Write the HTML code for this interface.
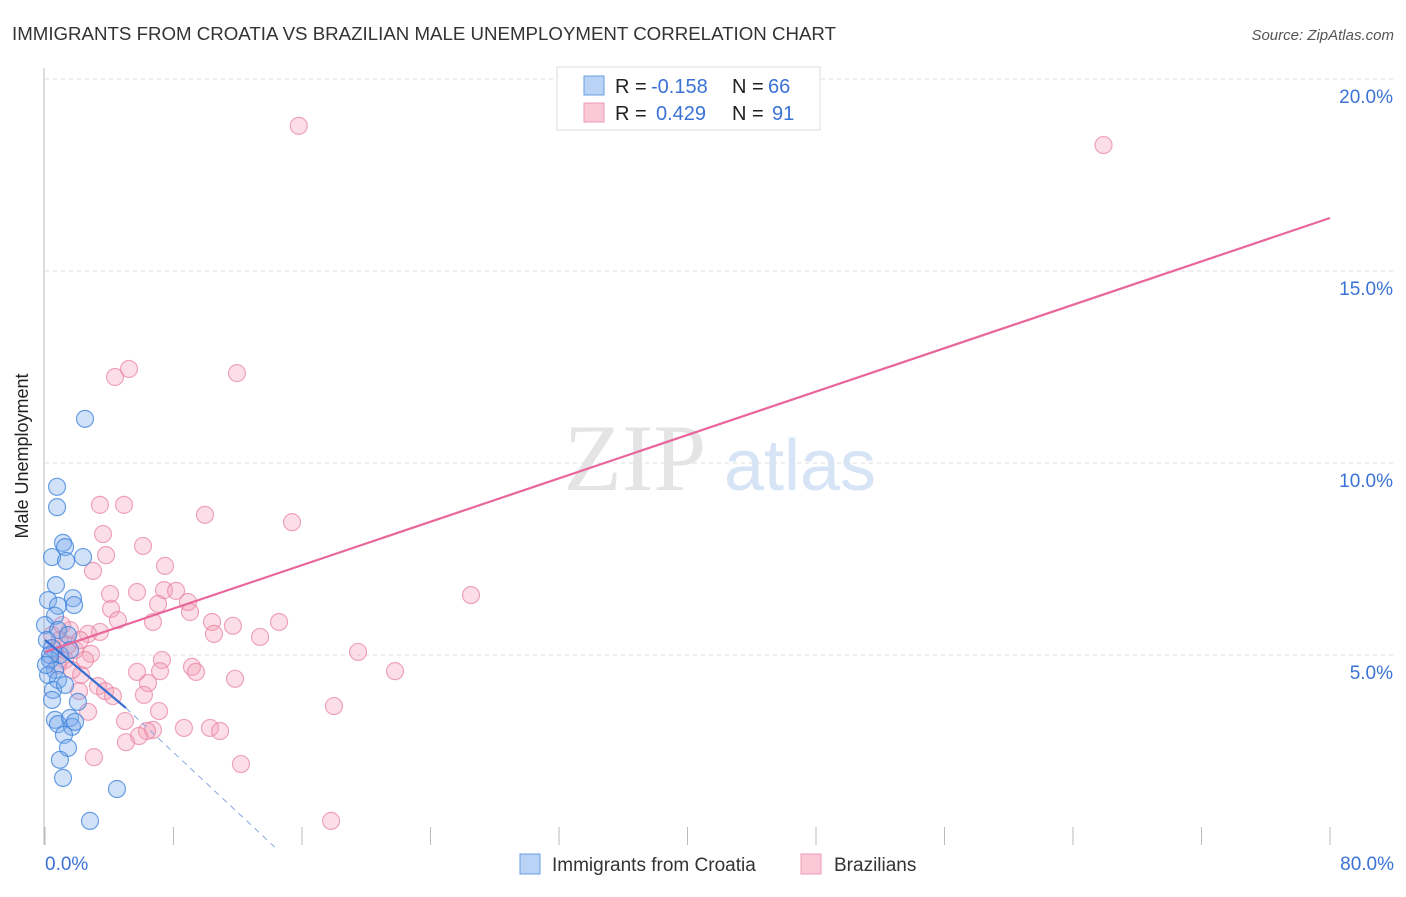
<!DOCTYPE html>
<html><head><meta charset="utf-8"><style>
body{margin:0;background:#fff;font-family:"Liberation Sans",sans-serif;}
</style></head><body>
<svg width="1406" height="892" xmlns="http://www.w3.org/2000/svg" style="font-family:'Liberation Sans',sans-serif">
<text x="12" y="40" font-size="18" fill="#333" textLength="824" lengthAdjust="spacingAndGlyphs">IMMIGRANTS FROM CROATIA VS BRAZILIAN MALE UNEMPLOYMENT CORRELATION CHART</text>
<text x="1394" y="40" font-size="15" fill="#555" font-style="italic" text-anchor="end">Source: ZipAtlas.com</text>
<g id="grid"></g>
<g>
<text x="635" y="490" font-size="95" fill="#e4e4e4" font-family="Liberation Serif" text-anchor="middle">ZIP</text>
<text x="800" y="490" font-size="72" fill="#d6e4f5" text-anchor="middle">atlas</text></g>
<line x1="44" y1="68" x2="44" y2="845" stroke="#bbb"/>
<g id="ticks"></g>
<text x="28" y="456" font-size="18" fill="#222" transform="rotate(-90 28 456)" text-anchor="middle">Male Unemployment</text>
<text x="45" y="870" font-size="19" fill="#3a72d6">0.0%</text>
<text x="1394" y="870" font-size="19" fill="#3a72d6" text-anchor="end">80.0%</text>
<g id="pts"></g>
<g id="trend"></g>
<g>
<rect x="557" y="67" width="263" height="63" fill="#fff" stroke="#ddd"/>
<rect x="584" y="76" width="20" height="19" fill="#b8d3f5" stroke="#6a9de0"/>
<rect x="584" y="103" width="20" height="19" fill="#fbc8d7" stroke="#eb9ab3"/>
<text x="615" y="93" font-size="20" fill="#222">R =</text>
<text x="651" y="93" font-size="20" fill="#3a72d6">-0.158</text>
<text x="732" y="93" font-size="20" fill="#222">N =</text>
<text x="768" y="93" font-size="20" fill="#3a72d6">66</text>
<text x="615" y="120" font-size="20" fill="#222">R =</text>
<text x="656" y="120" font-size="20" fill="#3a72d6">0.429</text>
<text x="732" y="120" font-size="20" fill="#222">N =</text>
<text x="772" y="120" font-size="20" fill="#3a72d6">91</text>
</g>
<g>
<rect x="520" y="854" width="20" height="20" fill="#b8d3f5" stroke="#6a9de0"/>
<text x="552" y="871" font-size="19" fill="#333">Immigrants from Croatia</text>
<rect x="801" y="854" width="20" height="20" fill="#fbc8d7" stroke="#eb9ab3"/>
<text x="834" y="871" font-size="19" fill="#333">Brazilians</text>
</g>
</svg>
<script>
const yTicks=[5,10,15,20];
const yTickLabels=["5.0%","10.0%","15.0%","20.0%"];
const xTicks=[0,8,16,24,32,40,48,56,64,72,80];
const pinkX=[15.8,65.9,4.36,5.23,11.95,3.42,4.92,9.96,15.38,3.61,6.1,3.8,7.47,2.99,4.05,5.73,7.41,8.16,26.52,8.9,7.04,4.11,9.03,4.54,6.72,10.4,14.57,11.7,10.52,3.42,13.39,2.68,19.49,2.86,7.28,9.15,5.73,9.4,7.16,21.79,11.83,2.24,3.3,6.41,2.12,3.74,4.23,6.16,17.99,2.68,7.1,4.98,10.27,8.65,6.72,6.35,5.85,5.04,3.05,12.2,10.9,17.81,0.93,1.56,0.62,1.25,1.87,0.44,0.81,1.43,2.18,2.49,1.06,1.68];
const pinkY=[18.78,18.28,12.24,12.45,12.34,8.91,8.91,8.65,8.46,8.15,7.84,7.6,7.32,7.19,6.59,6.64,6.69,6.67,6.56,6.38,6.33,6.2,6.12,5.91,5.86,5.86,5.86,5.76,5.55,5.6,5.47,5.55,5.08,5.03,4.87,4.69,4.56,4.56,4.58,4.58,4.38,4.48,4.19,4.27,4.06,4.06,3.93,3.96,3.67,3.52,3.54,3.28,3.1,3.1,3.05,3.02,2.89,2.73,2.34,2.16,3.02,0.68,5.39,5.65,5.13,4.87,5.13,5.52,4.74,5.26,5.39,4.87,5.78,4.61];
const blueX=[2.49,0.75,0.75,1.12,1.25,0.44,1.31,2.37,0.68,0.19,1.74,1.81,0.81,0.62,0,0.81,1.43,0.12,0.44,0.93,1.56,0.31,0.62,0.19,0.81,0.5,1.25,0.44,2.05,0.62,0.81,1.56,1.68,1.18,1.87,1.43,0.93,1.12,4.48,2.8,0.31,0.06];
const blueY=[11.15,9.38,8.85,7.92,7.81,7.55,7.45,7.55,6.82,6.43,6.48,6.3,6.28,6.02,5.78,5.65,5.52,5.39,5.18,5.0,5.13,4.87,4.61,4.48,4.35,4.09,4.22,3.83,3.78,3.31,3.2,3.36,3.13,2.92,3.26,2.58,2.27,1.8,1.51,0.68,5.0,4.74];
const pinkTrend=[[0,5.08],[80,16.38]];
const blueTrend=[[0,5.39],[5.04,3.62]];
const blueTrendExt=[[5.04,3.62],[14.3,0]];
const NS="http://www.w3.org/2000/svg";
const xS=v=>45+v/80*1285, yS=v=>847-v*38.4;
function mk(t,a,p){const e=document.createElementNS(NS,t);for(const k in a)e.setAttribute(k,a[k]);p.appendChild(e);return e;}
const grid=document.getElementById('grid');
yTicks.forEach((v,i)=>{
 const l=mk('line',{x1:45,x2:1394,y1:yS(v),y2:yS(v),stroke:'#ddd','stroke-dasharray':'4,4'},grid);
 
 
 const t=mk('text',{x:1393,y:yS(v)+24,'font-size':19,fill:'#3a72d6','text-anchor':'end'},grid);
 t.textContent=yTickLabels[i];
 
 
});
const tk=document.getElementById('ticks');
xTicks.forEach(v=>{
 const l=mk('line',{x1:xS(v),x2:xS(v),y1:827,y2:845,stroke:'#bbb'},tk);
 
 
});
const pts=document.getElementById('pts');
pinkX.forEach((x,i)=>{
 const c=mk('circle',{cx:xS(x),cy:yS(pinkY[i]),r:8.5,fill:'rgba(244,160,186,0.35)',stroke:'rgba(232,130,160,0.7)','stroke-width':1.2},pts);
 
 
});
blueX.forEach((x,i)=>{
 const c=mk('circle',{cx:xS(x),cy:yS(blueY[i]),r:8.5,fill:'rgba(120,170,235,0.35)',stroke:'rgba(60,130,220,0.75)','stroke-width':1.2},pts);
 
 
});
const tr=document.getElementById('trend');
const p=mk('line',{x1:xS(pinkTrend[0][0]),y1:yS(pinkTrend[0][1]),x2:xS(pinkTrend[1][0]),y2:yS(pinkTrend[1][1]),stroke:'#e8669a','stroke-width':2.2},tr);


const b=mk('line',{x1:xS(blueTrend[0][0]),y1:yS(blueTrend[0][1]),x2:xS(blueTrend[1][0]),y2:yS(blueTrend[1][1]),stroke:'#3a6fd0','stroke-width':2.2},tr);


const bd=mk('line',{x1:xS(blueTrendExt[0][0]),y1:yS(blueTrendExt[0][1]),x2:xS(blueTrendExt[1][0]),y2:yS(blueTrendExt[1][1]),stroke:'#8aa8e0','stroke-width':1,'stroke-dasharray':'6,5'},tr);


</script>
</body></html>
